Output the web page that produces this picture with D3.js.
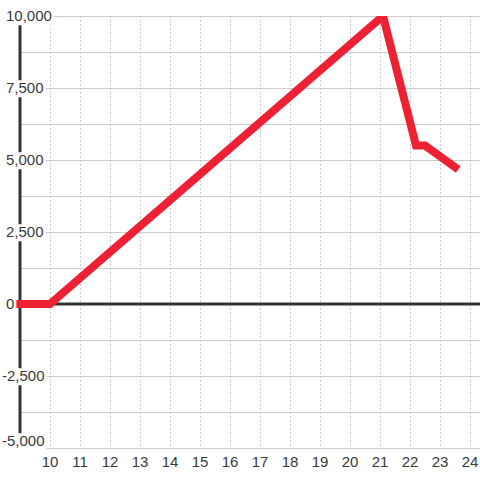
<!DOCTYPE html>
<html>
<head>
<meta charset="utf-8">
<script src="https://cdn.jsdelivr.net/npm/d3@7"></script>
<style>
body { margin: 0; background: #fff; }
text { font-family: "Liberation Sans", Arial, sans-serif; font-size: 15px; fill: #3a3a3a; }
</style>
</head>
<body>
<div id="vis" style="width:480px;height:480px"></div>
<script>
var hours = [9, 10, 21.1, 22.2, 22.5, 23.5];
var values = [0, 0, 10000, 5500, 5500, 4750];
var x_ticks = [10, 11, 12, 13, 14, 15, 16, 17, 18, 19, 20, 21, 22, 23, 24];
var y_ticks = [-5000, -2500, 0, 2500, 5000, 7500, 10000];

var width = 480, height = 480;
var margin = { top: 16, bottom: 32, left: 20, right: 0 };

var svg = d3.select('#vis').append('svg').attr('width', width).attr('height', height);

var x_scale = d3.scaleLinear().domain([9, 9 + (width - margin.left) / 30]).range([margin.left, width - margin.right]);
var y_scale = d3.scaleLinear().domain([-5000, 10000]).range([height - margin.bottom, margin.top]);

// horizontal grid every 1250
var h_grid = d3.range(-5000, 10001, 1250);
svg.append('g').selectAll('line').data(h_grid).enter().append('line')
	.attr('x1', margin.left).attr('x2', width)
	.attr('y1', function(d) { return Math.round(y_scale(d)) + 0.5; })
	.attr('y2', function(d) { return Math.round(y_scale(d)) + 0.5; })
	.attr('stroke', '#cccccc').attr('stroke-width', 1);

// vertical dotted grid
svg.append('g').selectAll('line').data(x_ticks).enter().append('line')
	.attr('x1', function(d) { return Math.round(x_scale(d)) + 0.5; })
	.attr('x2', function(d) { return Math.round(x_scale(d)) + 0.5; })
	.attr('y1', y_scale(10000)).attr('y2', y_scale(-5000))
	.attr('stroke', '#cccccc').attr('stroke-width', 1).attr('stroke-dasharray', '2,2');

// y axis line and zero line
svg.append('line').attr('x1', x_scale(9)).attr('x2', x_scale(9))
	.attr('y1', y_scale(10000)).attr('y2', y_scale(-5000))
	.attr('stroke', '#333').attr('stroke-width', 3);
svg.append('line').attr('x1', x_scale(9)).attr('x2', width)
	.attr('y1', y_scale(0)).attr('y2', y_scale(0))
	.attr('stroke', '#333').attr('stroke-width', 3);

// series line, clipped at plot top
svg.append('clipPath').attr('id', 'clip').append('rect')
	.attr('x', 0).attr('y', margin.top).attr('width', width).attr('height', height - margin.top - margin.bottom);

var line = d3.line()
	.x(function(d, i) { return x_scale(hours[i]); })
	.y(function(d) { return y_scale(d); });

svg.append('path').datum(values)
	.attr('clip-path', 'url(#clip)')
	.attr('d', line)
	.attr('fill', 'none')
	.attr('stroke', '#ee2033')
	.attr('stroke-width', 8)
	.attr('stroke-linecap', 'square')
	.attr('stroke-linejoin', 'miter');

// y labels with white background
var fmt = d3.format(',');
var y_labels = svg.append('g').selectAll('g').data(y_ticks).enter().append('g')
	.attr('transform', function(d) {
		var y = Math.min(y_scale(d), height - margin.bottom - 7);
		return 'translate(' + (d < 0 ? 2 : 6) + ',' + y + ')';
	});
y_labels.append('text')
	.attr('dy', '0.35em')
	.text(function(d) { return fmt(d).replace('\u2212', '-'); });
y_labels.each(function() {
	var g = d3.select(this);
	var b = g.select('text').node().getBBox();
	g.insert('rect', 'text').attr('x', b.x - 1).attr('y', b.y + 1).attr('width', b.width + 3).attr('height', b.height).attr('fill', '#fff');
});

// x labels
svg.append('g').selectAll('text').data(x_ticks).enter().append('text')
	.attr('x', function(d) { return x_scale(d); })
	.attr('y', 467)
	.attr('text-anchor', 'middle')
	.text(function(d) { return d; });
</script>
</body>
</html>
